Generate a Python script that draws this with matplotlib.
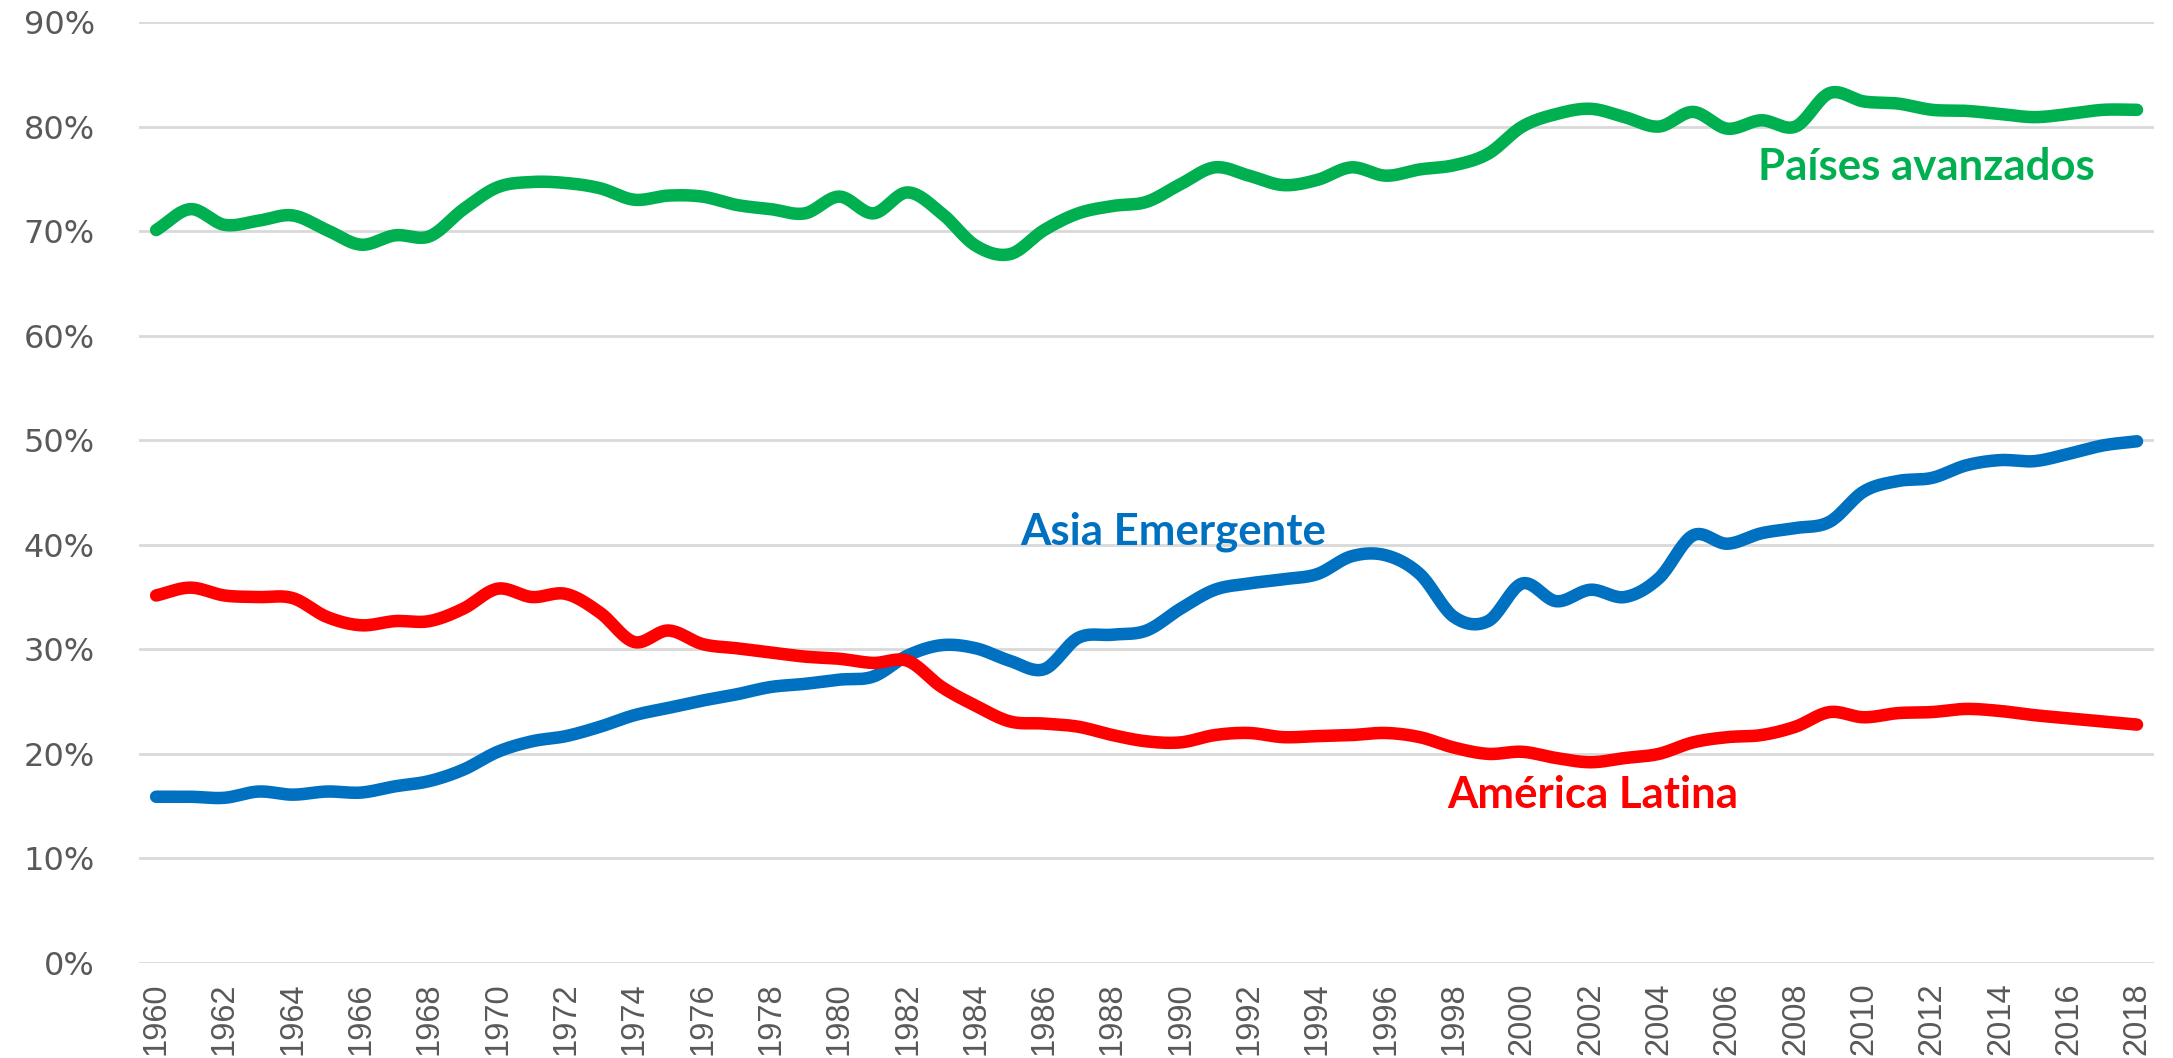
import numpy as np
import matplotlib
matplotlib.use("Agg")
import matplotlib.pyplot as plt
from matplotlib.ticker import FuncFormatter

# Share of world output (%), 1960-2018
years = list(range(1960, 2019))

paises_avanzados = [70.1, 72.1, 70.6, 71.0, 71.5, 70.1, 68.7, 69.6, 69.5, 72.1,
                    74.2, 74.7, 74.6, 74.1, 73.0, 73.4, 73.3, 72.5, 72.1, 71.7,
                    73.3, 71.7, 73.7, 71.7, 68.6, 67.8, 70.1, 71.7, 72.4, 72.8,
                    74.5, 76.1, 75.3, 74.4, 74.9, 76.1, 75.3, 75.9, 76.3, 77.4,
                    80.0, 81.2, 81.7, 80.9, 80.0, 81.4, 79.8, 80.6, 80.0, 83.2,
                    82.4, 82.2, 81.6, 81.5, 81.2, 80.9, 81.2, 81.6, 81.6]

asia_emergente = [15.9, 15.9, 15.8, 16.4, 16.1, 16.4, 16.3, 16.9, 17.4, 18.5,
                  20.2, 21.2, 21.7, 22.6, 23.7, 24.4, 25.1, 25.7, 26.4, 26.7,
                  27.1, 27.4, 29.4, 30.4, 30.1, 28.9, 28.1, 31.1, 31.4, 31.8,
                  33.9, 35.7, 36.3, 36.7, 37.2, 38.9, 39.0, 37.2, 33.1, 32.7,
                  36.3, 34.6, 35.7, 35.0, 36.8, 40.9, 40.1, 41.1, 41.6, 42.2,
                  45.1, 46.1, 46.4, 47.6, 48.1, 48.0, 48.7, 49.5, 49.9]

america_latina = [35.15, 35.9, 35.15, 35.0, 34.9, 33.1, 32.3, 32.7, 32.7, 33.9,
                  35.8, 35.0, 35.3, 33.5, 30.7, 31.8, 30.5, 30.1, 29.7, 29.3,
                  29.1, 28.7, 28.9, 26.4, 24.6, 23.1, 22.9, 22.6, 21.8, 21.2,
                  21.1, 21.8, 22.0, 21.6, 21.7, 21.8, 22.0, 21.6, 20.6, 20.0,
                  20.2, 19.6, 19.2, 19.6, 20.0, 21.1, 21.6, 21.8, 22.6, 24.0,
                  23.5, 23.9, 24.0, 24.3, 24.1, 23.7, 23.4, 23.1, 22.8]

x_ticks = years[::2]
y_ticks = list(range(0, 91, 10))


# smooth curve through the points (like Excel "smoothed line"), drawing only
def smooth(x, y, n=20):
    x = np.asarray(x, float)
    y = np.asarray(y, float)
    px = np.concatenate([[2 * x[0] - x[1]], x, [2 * x[-1] - x[-2]]])
    py = np.concatenate([[2 * y[0] - y[1]], y, [2 * y[-1] - y[-2]]])
    t = np.linspace(0, 1, n, endpoint=False)
    xs, ys = [], []
    for i in range(1, len(px) - 2):
        for p, out in ((px, xs), (py, ys)):
            p0, p1, p2, p3 = p[i - 1], p[i], p[i + 1], p[i + 2]
            out.append(0.5 * (2 * p1 + (-p0 + p2) * t
                              + (2 * p0 - 5 * p1 + 4 * p2 - p3) * t ** 2
                              + (-p0 + 3 * p1 - 3 * p2 + p3) * t ** 3))
    xs.append([x[-1]])
    ys.append([y[-1]])
    return np.concatenate(xs), np.concatenate(ys)


fig = plt.figure(figsize=(21.73, 10.58), dpi=100)
ax = fig.add_axes([0.064, 0.0898, 0.9273, 0.8894])

series = [
    (paises_avanzados, '#00B050'),
    (asia_emergente, '#0070C0'),
    (america_latina, '#FF0000'),
]
for values, color in series:
    sx, sy = smooth(years, values)
    ax.plot(sx, sy, color=color, lw=9, solid_capstyle='round',
            solid_joinstyle='round', zorder=3)

ax.set_xlim(1959.5, 2018.5)
ax.set_ylim(0, 90)
ax.set_yticks(y_ticks)
ax.yaxis.set_major_formatter(FuncFormatter(lambda v, pos: f'{v:.0f}%'))
ax.set_xticks(x_ticks)
ax.set_xticklabels([str(y) for y in x_ticks], rotation=90, va='top',
                   family='Liberation Sans', fontsize=23.5, color='#595959')
for lab in ax.get_yticklabels():
    lab.set_fontsize(23)
    lab.set_color('#595959')

ax.grid(axis='y', color='#D9D9D9', lw=2)
ax.set_axisbelow(True)
ax.tick_params(axis='both', length=0)
ax.tick_params(axis='y', pad=32)
ax.tick_params(axis='x', pad=14)
for s in ax.spines.values():
    s.set_visible(False)

lbl = dict(family='Lato', fontweight='bold', fontsize=31.5, ha='left', va='baseline')
ax.text(2006.9, 74.85, 'Países avanzados', color='#00B050', **lbl)
ax.text(1985.3, 40.0, 'Asia Emergente', color='#0070C0', **lbl)
ax.text(1997.8, 14.8, 'América Latina', color='#FF0000', **lbl)

fig.savefig('out.png', dpi=100)
